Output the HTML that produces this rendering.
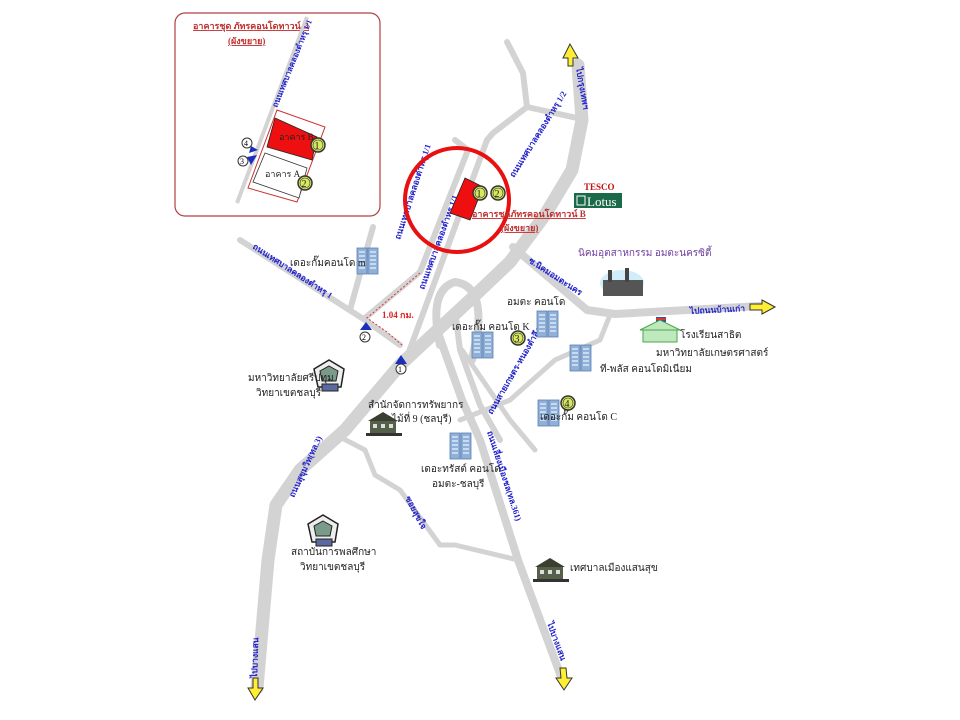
<!DOCTYPE html>
<html><head><meta charset="utf-8"><style>
html,body{margin:0;padding:0;background:#fff}
svg{display:block}
text{font-family:"Liberation Serif","Noto Serif CJK SC",serif}
.rl{fill:#2222cc;font-size:8.5px;font-weight:bold}
.lb{fill:#222;font-size:10px}
</style></head><body>
<svg width="960" height="720" viewBox="0 0 960 720" xmlns="http://www.w3.org/2000/svg">
<defs>
<g id="bld"><rect x="0" y="0" width="10" height="26" fill="#8fb0d8" stroke="#5f7fb0" stroke-width="0.8"/><rect x="11" y="0" width="10" height="26" fill="#8fb0d8" stroke="#5f7fb0" stroke-width="0.8"/>
<path d="M2 4h6M2 8h6M2 12h6M2 16h6M2 20h6M13 4h6M13 8h6M13 12h6M13 16h6M13 20h6" stroke="#dde8f5" stroke-width="1.5"/></g>
<g id="house"><rect x="0" y="8" width="26" height="14" fill="#55604a"/><path d="M-2 9L13 0L28 9Z" fill="#3a4030"/><rect x="3" y="12" width="4" height="4" fill="#ddd"/><rect x="11" y="12" width="4" height="4" fill="#ddd"/><rect x="19" y="12" width="4" height="4" fill="#ddd"/><rect x="-4" y="21" width="36" height="3" fill="#333"/></g>
<g id="pent"><path d="M15 0L30 9L27 27L4 27L0 9Z" fill="#eee" stroke="#222" stroke-width="1.5"/><path d="M15 6L24 11L22 21L8 21L6 11Z" fill="#7a9a8a" stroke="#222"/><rect x="8" y="24" width="16" height="7" fill="#5a6aa0" stroke="#222"/></g>
<g id="ylw"><circle r="7" fill="#d8e860" stroke="#333" stroke-width="1.5"/><circle r="5" fill="none" stroke="#333" stroke-width="0.6"/></g>
</defs>

<!-- roads -->
<g fill="none" stroke="#d3d3d3" stroke-linecap="round" stroke-linejoin="round">
<path d="M257 688 L268 560 L276 505 L300 470 L345 430 L400 365 L470 300 L510 262 L545 215 L572 170 L582 120 L578 65" stroke-width="13"/>
<path d="M437 330 L462 400 L480 440 L518 560 L563 682" stroke-width="8"/>
<path d="M240 240 L365 320 L400 345" stroke-width="6"/>
<path d="M365 318 L420 272 L468 150" stroke-width="6"/>
<path d="M407 357 L487 140 L493 133 L527 107 L577 118" stroke-width="6"/>
<path d="M527 107 L523 73 L507 42" stroke-width="6"/>
<path d="M455 140 L468 150" stroke-width="6"/>
<path d="M373 227 L350 310" stroke-width="6"/>
<path d="M513 247 L587 310 L615 314 L760 306" stroke-width="8"/>
<path d="M440 345 Q428 290 455 282 Q482 285 478 330 L472 360" stroke-width="8"/>
<path d="M455 310 L460 350 L480 405 L500 440" stroke-width="6"/>
<path d="M340 437 L365 450 L375 475 L400 490 L440 545 L455 545 L518 560" stroke-width="5"/>
<path d="M460 420 L510 400 L555 360 L600 340 L610 315" stroke-width="5"/>
<path d="M462 350 L510 420 L535 450" stroke-width="5"/>
</g>
<!-- arrows -->
<path d="M570 44 L563 58 L568 58 L568 66 L573 66 L573 58 L578 58Z" fill="#ffee33" stroke="#333" stroke-width="1"/>
<path d="M775 307 L762 300 L762 304 L750 304 L750 310 L762 310 L762 314Z" fill="#ffee33" stroke="#333" stroke-width="1"/>
<path d="M255 700 L248 688 L253 688 L253 678 L258 678 L258 688 L263 688Z" fill="#ffee33" stroke="#333" stroke-width="1"/>
<path d="M564 690 L556 678 L561 678 L560 668 L566 668 L567 678 L572 678Z" fill="#ffee33" stroke="#333" stroke-width="1"/>

<!-- red dotted -->
<path d="M420 273 L367 318 L387 332 L402 345" fill="none" stroke="#d33" stroke-width="1" stroke-dasharray="2,2"/>
<text x="382" y="318" fill="#d22" font-size="9" font-weight="bold">1.04 กม.</text>

<!-- road labels -->
<text class="rl" transform="translate(252,248) rotate(33)">ถนนเทศบาลคลองตำหรุ 1</text>
<text class="rl" transform="translate(400,240) rotate(-72)">ถนนเทศบาลคลองตำหรุ 1/1</text>
<text class="rl" transform="translate(424,290) rotate(-70)">ถนนเทศบาลคลองตำหรุ 1/1</text>
<text class="rl" transform="translate(514,178) rotate(-58)">ถนนเทศบาลคลองตำหรุ 1/2</text>
<text class="rl" transform="translate(576,68) rotate(80)">ไปกรุงเทพฯ</text>
<text class="rl" transform="translate(528,262) rotate(33)">ซ.นิคมอมตะนคร</text>
<text class="rl" transform="translate(690,314) rotate(-3)">ไปถนนบ้านเก่า</text>
<text class="rl" transform="translate(492,415) rotate(-60)">ถนนสายเกษตร-หนองตำลึง</text>
<text class="rl" transform="translate(294,498) rotate(-65)">ถนนสุขุมวิท(ทล.3)</text>
<text class="rl" transform="translate(487,432) rotate(72)">ถนนเลี่ยงเมืองชล(ทล.361)</text>
<text class="rl" transform="translate(405,498) rotate(62)">ซอยสุขใจ</text>
<text class="rl" transform="translate(547,623) rotate(70)">ไปบางแสน</text>
<text class="rl" transform="translate(257,678) rotate(-88)">ไปบางแสน</text>

<!-- big red circle -->
<circle cx="457" cy="200" r="52" fill="none" stroke="#e81010" stroke-width="4"/>
<path d="M465 178 L483 187 L470 220 L450 213Z" fill="#ee1010" stroke="#222" stroke-width="0.8"/>
<use href="#ylw" x="480" y="193"/><text x="476.5" y="197" font-size="10" fill="#222" font-family="Liberation Sans">1</text>
<use href="#ylw" x="498" y="193"/><text x="494.5" y="197" font-size="10" fill="#222" font-family="Liberation Sans">2</text>
<text x="472" y="217" fill="#c03030" font-size="9" font-weight="bold" text-decoration="underline">อาคารชุดภัทรคอนโดทาวน์ B</text>
<text x="501" y="231" fill="#c03030" font-size="9" font-weight="bold" text-decoration="underline">(ผังขยาย)</text>

<!-- Tesco -->
<text x="584" y="190" fill="#c01010" font-size="9" font-weight="bold" font-family="Liberation Sans">TESCO</text>
<rect x="574" y="193" width="48" height="15" fill="#1a6a4a"/>
<rect x="577" y="196" width="8" height="9" fill="none" stroke="#fff"/>
<text x="587" y="206" fill="#fff" font-size="13">Lotus</text>

<!-- labels & icons -->
<text x="578" y="256" fill="#7040a0" font-size="10">นิคมอุตสาหกรรม อมตะนครซิตี้</text>
<ellipse cx="622" cy="283" rx="22" ry="13" fill="#cfeefa"/>
<rect x="603" y="280" width="40" height="16" fill="#555"/><rect x="608" y="270" width="4" height="12" fill="#444"/><rect x="625" y="268" width="4" height="14" fill="#444"/>
<use href="#bld" x="357" y="248"/>
<text x="290" y="266" class="lb">เดอะกั๊มคอนโด m</text>
<text x="507" y="305" class="lb">อมตะ คอนโด</text>
<use href="#bld" x="537" y="311"/>
<text x="452" y="330" class="lb">เดอะกั๊ม คอนโด K</text>
<use href="#bld" x="472" y="332"/>
<use href="#ylw" x="518" y="338"/><text x="514.5" y="342" font-size="10" fill="#222" font-family="Liberation Sans">3</text>
<use href="#bld" x="570" y="345"/>
<text x="600" y="372" class="lb">ที-พลัส คอนโดมิเนียม</text>
<rect x="656" y="317" width="10" height="5" fill="#3050b0"/><rect x="656" y="318" width="10" height="2" fill="#e03030"/>
<path d="M640 330 L660 320 L680 330 Z M643 330 h34 v12 h-34Z" fill="#bfe8bf" stroke="#4a4" stroke-width="1"/>
<text x="680" y="338" class="lb">โรงเรียนสาธิต</text>
<text x="656" y="356" class="lb">มหาวิทยาลัยเกษตรศาสตร์</text>
<use href="#bld" x="538" y="400"/>
<use href="#ylw" x="568" y="403"/><text x="564.5" y="407" font-size="10" fill="#222" font-family="Liberation Sans">4</text>
<text x="540" y="420" class="lb">เดอะกั๊ม คอนโด C</text>
<use href="#pent" x="314" y="360"/>
<text x="248" y="381" class="lb">มหาวิทยาลัยศรีปทุม</text>
<text x="256" y="396" class="lb">วิทยาเขตชลบุรี</text>
<text x="368" y="408" class="lb">สำนักจัดการทรัพยากร</text>
<text x="380" y="422" class="lb">ป่าไม้ที่ 9 (ชลบุรี)</text>
<use href="#house" x="370" y="412"/>
<use href="#bld" x="450" y="433"/>
<text x="421" y="472" class="lb">เดอะทรัสต์ คอนโด</text>
<text x="432" y="487" class="lb">อมตะ-ชลบุรี</text>
<use href="#pent" x="308" y="515"/>
<text x="291" y="555" class="lb">สถาบันการพลศึกษา</text>
<text x="300" y="570" class="lb">วิทยาเขตชลบุรี</text>
<use href="#house" x="537" y="558"/>
<text x="570" y="571" class="lb">เทศบาลเมืองแสนสุข</text>

<!-- blue markers -->
<path d="M360 330 L366 322 L372 330 Z" fill="#1a2fbf"/>
<circle cx="365" cy="337" r="5" fill="#fff" stroke="#333"/><text x="362" y="340" font-size="8" font-family="Liberation Sans">2</text>
<path d="M395 364 L401 355 L407 364 Z" fill="#1a2fbf"/>
<circle cx="401" cy="369" r="5" fill="#fff" stroke="#333"/><text x="398" y="372" font-size="8" font-family="Liberation Sans">1</text>

<!-- inset -->
<rect x="175" y="13" width="205" height="203" rx="10" fill="#fff" stroke="#b04040" stroke-width="1.2"/>
<text x="193" y="29" fill="#c03030" font-size="9" font-weight="bold" text-decoration="underline">อาคารชุด ภัทรคอนโดทาวน์ B</text>
<text x="228" y="44" fill="#c03030" font-size="9" font-weight="bold" text-decoration="underline">(ผังขยาย)</text>
<path d="M237 203 L307 17" stroke="#d3d3d3" stroke-width="4"/>
<text class="rl" transform="translate(277,108) rotate(-68)" style="font-size:8px">ถนนเทศบาลคลองตำหรุ 1/1</text>
<path d="M277 110 L325 127 L297 202 L248 188Z" fill="none" stroke="#cc3030" stroke-width="1"/>
<path d="M275 118 L317 137 L312 160 L267 147Z" fill="#ee1010" stroke="#222" stroke-width="0.8"/>
<text x="279" y="140" font-size="9" fill="#222">อาคาร B</text>
<path d="M265 153 L307 168 L299 198 L253 182Z" fill="#fff" stroke="#333" stroke-width="0.8"/>
<text x="265" y="177" font-size="9" fill="#222">อาคาร A</text>
<use href="#ylw" x="318" y="145"/><text x="314.5" y="149" font-size="10" fill="#222" font-family="Liberation Sans">1</text>
<use href="#ylw" x="305" y="183"/><text x="301.5" y="187" font-size="10" fill="#222" font-family="Liberation Sans">2</text>
<path d="M251 146 L258 150 L249 153Z" fill="#1a2fbf"/>
<circle cx="247" cy="143" r="5" fill="#fff" stroke="#333"/><text x="244" y="146" font-size="8" font-family="Liberation Sans">4</text>
<path d="M247 157 L257 155 L251 165Z" fill="#1a2fbf"/>
<circle cx="243" cy="161" r="5" fill="#fff" stroke="#333"/><text x="240" y="164" font-size="8" font-family="Liberation Sans">3</text>
</svg>
</body></html>
